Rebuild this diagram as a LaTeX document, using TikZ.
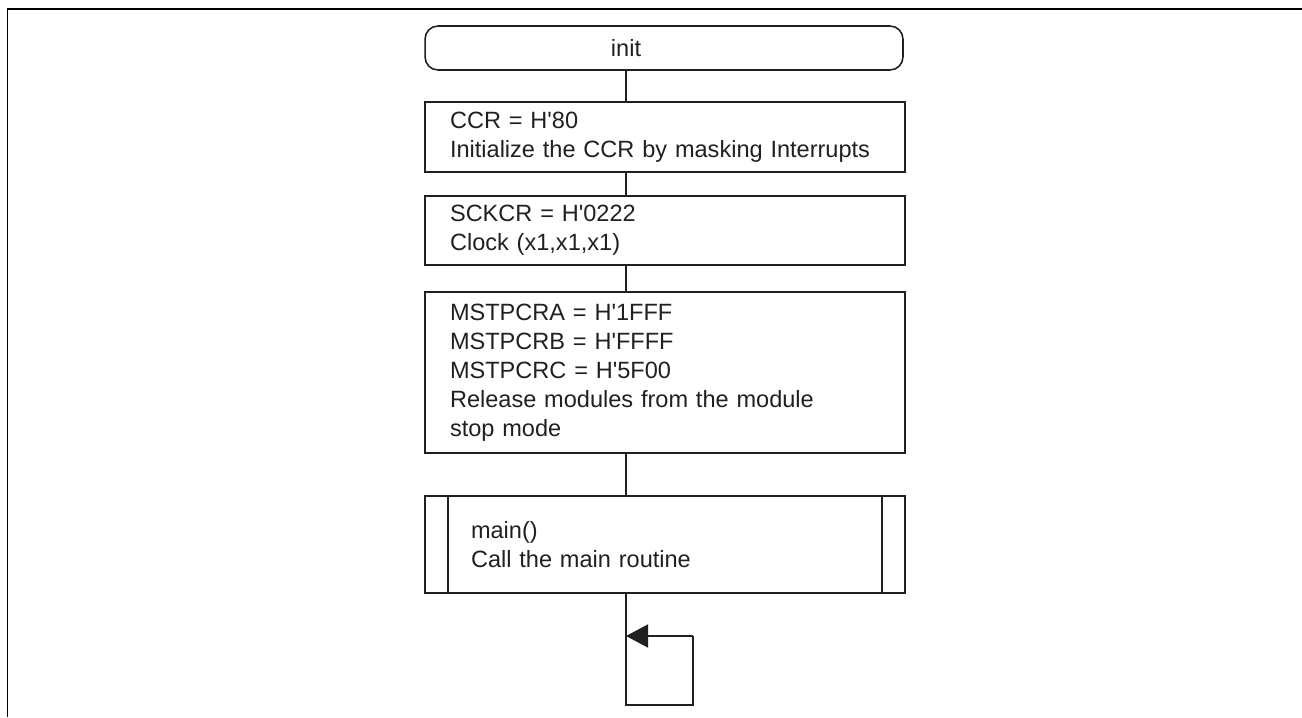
\documentclass[tikz,border=0pt]{standalone}
\usepackage{fontspec}
\setmainfont{Liberation Sans}
\usetikzlibrary{arrows.meta,positioning}
\definecolor{ink}{HTML}{231F20}

\begin{document}
\begin{tikzpicture}[x=0.02cm, y=-0.02cm, line width=0.9pt, color=ink,
  box node/.style={rectangle,draw,minimum width=9.6cm,text width=8.6cm,inner xsep=0.5cm,align=left},
  term node/.style={rectangle,draw,rounded corners=0.26cm,minimum width=9.56cm,minimum height=0.88cm}]
\useasboundingbox (0,0) rectangle (1302,717);
\begin{scope}[every node/.style={font=\fontsize{13.4}{16.5}\selectfont}]
\node[term node, label={[xshift=-0.76cm]center:init}] (init) at (664,48) {};
\node[box node, minimum height=1.4cm] (ccr) at (665,137) {CCR = H\textquotesingle 80\\Initialize the CCR by masking Interrupts};
\node[box node, minimum height=1.38cm] (sckcr) at (665,230.5) {SCKCR = H\textquotesingle 0222\\Clock (x1,x1,x1)};
\node[box node, minimum height=3.22cm] (mstp) at (665,372.5) {MSTPCRA = H\textquotesingle 1FFF\\MSTPCRB = H\textquotesingle FFFF\\MSTPCRC = H\textquotesingle 5F00\\Release modules from the module\\stop mode};
\node[box node, minimum height=1.94cm, text width=7.76cm, inner xsep=0.92cm] (main) at (665,544.5) {main()\\Call the main routine};
%\node[box node] () at (,) {};
\end{scope}
% side bars of the subroutine box
\draw ([xshift=0.48cm]main.north west) -- ([xshift=0.48cm]main.south west);
\draw ([xshift=-0.48cm]main.north east) -- ([xshift=-0.48cm]main.south east);
% flow line
\coordinate (axis) at (626,0);
\draw (init.south -| axis) -- (ccr.north -| axis);
\draw (ccr.south -| axis) -- (sckcr.north -| axis);
\draw (sckcr.south -| axis) -- (mstp.north -| axis);
\draw (mstp.south -| axis) -- (main.north -| axis);
% endless loop
\coordinate (loopbl) at (626,705);
\coordinate (loopbr) at (693,705);
\coordinate (looptr) at (693,636);
\coordinate (loopin) at (626,636);
\draw (main.south -| axis) -- (loopbl) -- (loopbr) -- (looptr);
\draw[-{Triangle[length=0.44cm,width=0.46cm]}] (looptr) -- (loopin);
% frame
\coordinate (frametop) at (1302,9);
\coordinate (framecorner) at (7.5,9);
\coordinate (framebottom) at (7.5,717);
\draw[line width=1.1pt, black] (frametop) -- (framecorner) -- (framebottom);
\end{tikzpicture}
\end{document}
